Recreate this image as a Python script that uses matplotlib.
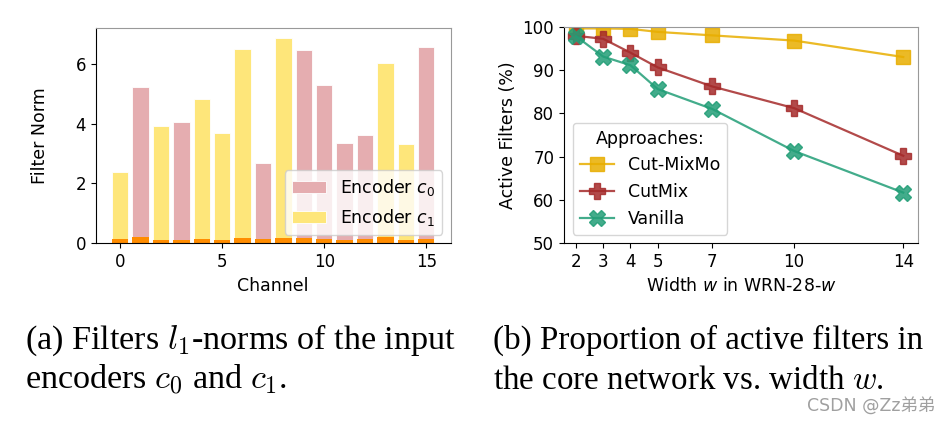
import matplotlib
matplotlib.use("Agg")
import matplotlib.pyplot as plt
import numpy as np

# (a) filter norms per channel
channels = np.arange(16)
norm_c0 = [0.13, 5.24, 0.10, 4.05, 0.13, 0.10, 0.16, 2.69, 0.16, 6.47, 5.28, 3.37, 3.62, 0.20, 0.10, 6.57]
norm_c1 = [2.38, 0.20, 3.92, 0.10, 4.81, 3.68, 6.50, 0.13, 6.87, 0.16, 0.13, 0.10, 0.13, 6.02, 3.31, 0.13]

# (b) active filters vs width
widths = [2, 3, 4, 5, 7, 10, 14]
cut_mixmo = [99.6, 99.6, 99.5, 98.8, 98.0, 96.8, 93.0]
cutmix = [97.9, 97.2, 94.0, 90.6, 86.2, 81.2, 70.2]
vanilla = [97.8, 93.1, 91.1, 85.6, 81.0, 71.3, 61.7]

plt.rcParams["font.size"] = 12.5

fig = plt.figure(figsize=(9.51, 4.22), dpi=100)
ax1 = fig.add_axes([0.1006, 0.4235, 0.3734, 0.5101])
ax2 = fig.add_axes([0.593, 0.4235, 0.372, 0.5132])

# left panel
c0 = np.array(norm_c0)
c1 = np.array(norm_c1)
ax1.bar(channels, c0, width=0.8, color="#e5adb0", edgecolor="white", linewidth=0.6, label="Encoder $c_0$")
ax1.bar(channels, c1, width=0.8, color="#fee67a", edgecolor="white", linewidth=0.6, label="Encoder $c_1$")
ax1.bar(channels, np.minimum(c0, c1), width=0.8, color="#ff8c00", linewidth=0)
ax1.set_xlim(-1.2, 16.2)
ax1.set_ylim(0, 7.2)
ax1.set_xticks([0, 5, 10, 15])
ax1.set_yticks([0, 2, 4, 6])
ax1.set_xlabel("Channel")
ax1.set_ylabel("Filter Norm", labelpad=19)
ax1.tick_params(labelsize=12)
ax1.legend(loc="lower right", fontsize=12.5)

# right panel
series = [
    (cut_mixmo, "Cut-MixMo", "#e8ae00", "s", 10),
    (cutmix, "CutMix", "#a52a2a", "P", 11),
    (vanilla, "Vanilla", "#229e77", "X", 11),
]
for vals, name, col, mk, ms in series:
    ax2.plot(widths, vals, color=col, alpha=0.85, lw=1.6, marker=mk, ms=ms,
             mfc=col, mec=col, label=name)
ax2.set_xlim(1.56, 14.53)
ax2.set_ylim(50, 100)
ax2.set_xticks(widths)
ax2.set_yticks([50, 60, 70, 80, 90, 100])
ax2.set_xlabel("Width $w$ in WRN-28-$w$")
ax2.set_ylabel("Active Filters (%)")
ax2.tick_params(labelsize=12)
ax2.legend(loc="lower left", title="Approaches:", fontsize=12.5, title_fontsize=12.5)

for ax in (ax1, ax2):
    ax.spines["top"].set_color("0.6")
    ax.spines["right"].set_color("0.6")

# captions
cap = dict(family="Liberation Serif", color="black", math_fontfamily="cm", va="baseline")
fig.text(25 / 951, 1 - 349 / 422, "(a) Filters $l_1$-norms of the input", fontsize=24.6, **cap)
fig.text(25 / 951, 1 - 389 / 422, "encoders $c_0$ and $c_1$.", fontsize=24.6, **cap)
fig.text(493 / 951, 1 - 349 / 422, "(b) Proportion of active filters in", fontsize=23.8, **cap)
fig.text(493 / 951, 1 - 389 / 422, "the core network vs. width $w$.", fontsize=23.8, **cap)

fig.text(935 / 951, 1 - 411 / 422, "CSDN @Zz弟弟", ha="right", va="baseline", fontsize=12.5,
         color="#a0a0a0", family=["DejaVu Sans", "Noto Sans CJK SC"])

fig.savefig("out.png", dpi=100)
